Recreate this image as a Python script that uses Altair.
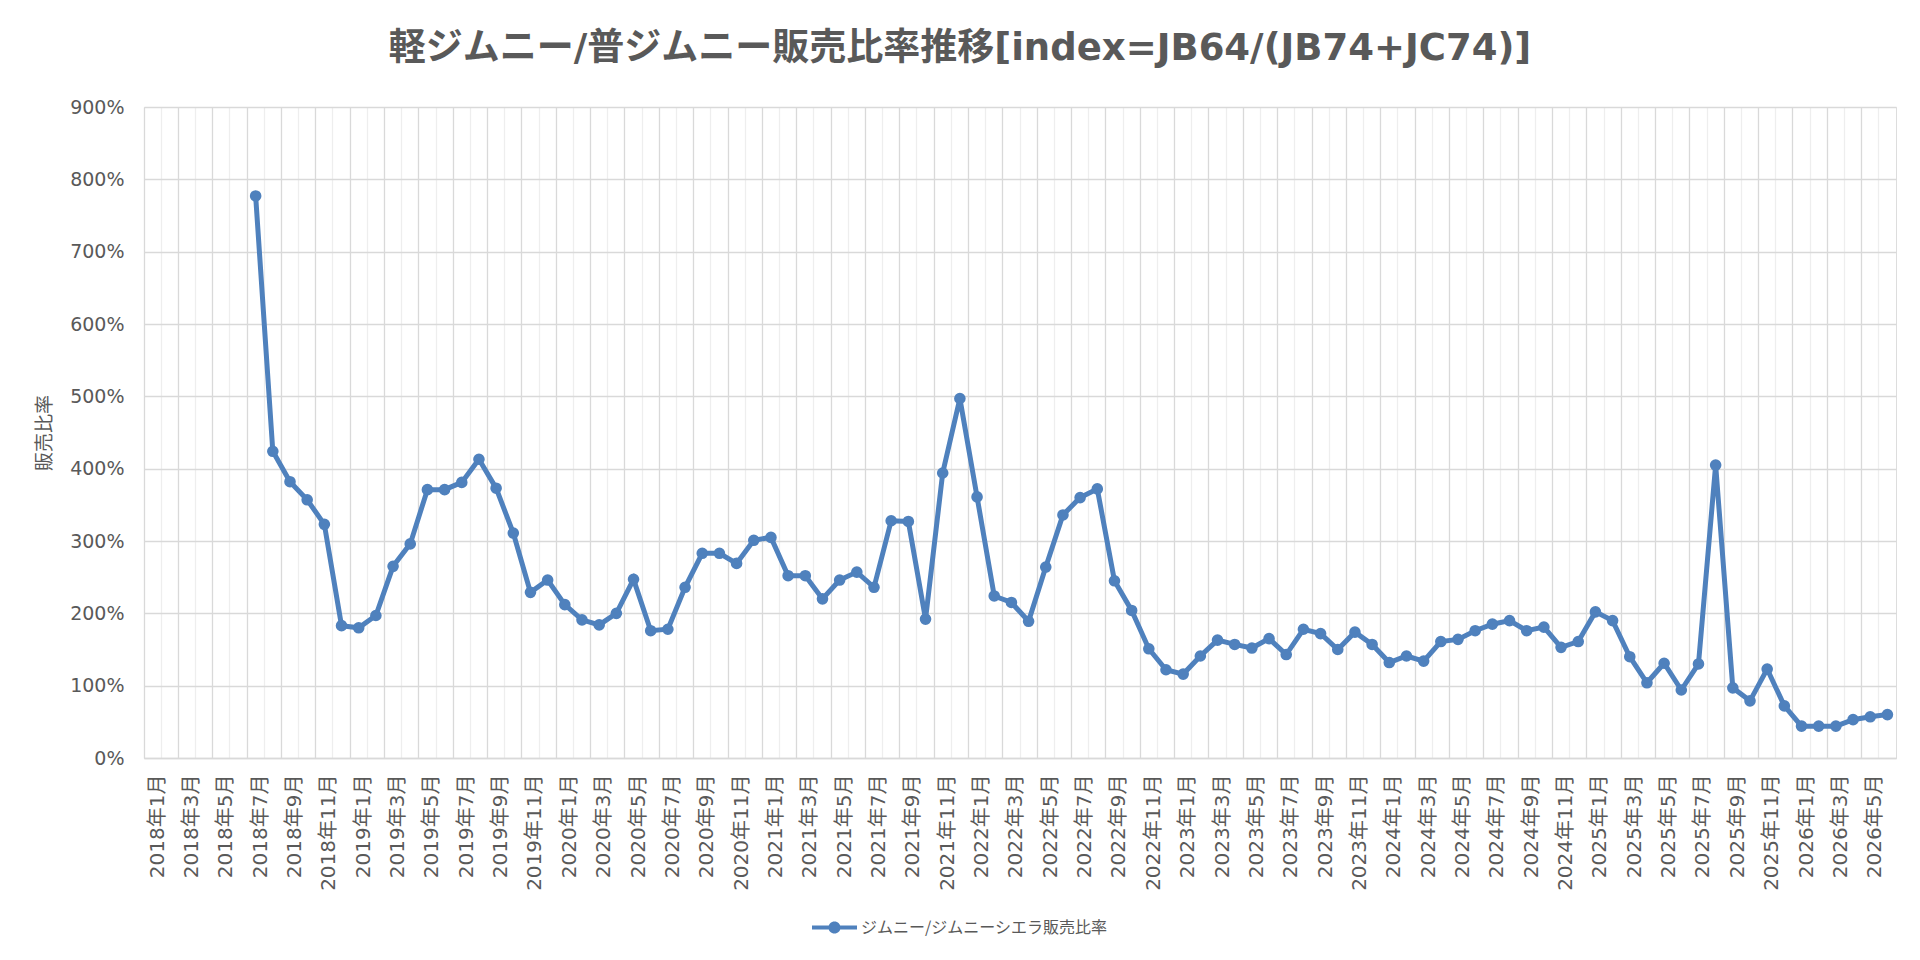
import json
import altair as alt
import pandas as pd

# categories: 2018年1月 .. 2026年6月
years = list(range(2018, 2027))
month_nums = list(range(1, 13))
months = [f"{y}年{m}月" for y in years for m in month_nums][:102]

# labelled months (every second month)
tick_labels = months[::2]

# ratio JB64/(JB74+JC74) in %, from 2018年7月 to 2026年6月
first_month = "2018年7月"
ratios = [
    777, 424, 382, 357, 323, 183,            # 2018-07..12
    180, 197, 265, 296, 371, 371, 381, 413, 373, 311, 229, 246,   # 2019
    212, 191, 184, 200, 247, 176, 178, 236, 283, 283, 269, 301,   # 2020
    305, 252, 252, 220, 246, 257, 236, 328, 327, 192, 394, 497,   # 2021
    361, 224, 215, 189, 264, 336, 360, 372, 245, 204, 151, 122,   # 2022
    116, 141, 163, 157, 152, 165, 143, 178, 172, 150, 174, 157,   # 2023
    132, 141, 134, 161, 164, 176, 185, 190, 176, 181, 153, 161,   # 2024
    202, 190, 140, 104, 131, 94, 130, 405, 97, 79, 123, 72,       # 2025
    44, 44, 44, 53, 57, 60,                  # 2026-01..06
]
series_name = "ジムニー/ジムニーシエラ販売比率"
y_ticks = [0, 100, 200, 300, 400, 500, 600, 700, 800, 900]

start = months.index(first_month)
df = pd.DataFrame({
    "month": months[start:start + len(ratios)],
    "ratio": ratios,
    "series": series_name,
})

LINE_COLOR = "#4F81BD"
TEXT_COLOR = "#595959"
GRID_MAJOR = "#D9D9D9"
GRID_MINOR = "#EEEEEE"
CJK = "Noto Sans CJK JP"
LATIN = "DejaVu Sans"

labels_js = json.dumps(tick_labels, ensure_ascii=False)

x_enc = alt.X(
    "month:O",
    sort=months,
    scale=alt.Scale(type="band", domain=months, paddingInner=0, paddingOuter=0),
    axis=alt.Axis(
        values=months,
        bandPosition=0,
        labelExpr=f"indexof({labels_js}, datum.value) >= 0 ? datum.label : ''",
        labelAngle=270,
        labelFont=f"{LATIN}, {CJK}",
        labelFontSize=20,
        labelColor=TEXT_COLOR,
        labelPadding=16,
        labelOffset=5,
        labelOverlap=False,
        labelBound=False,
        ticks=False,
        domainColor=GRID_MAJOR,
        domainWidth=1.3,
        grid=True,
        gridColor={
            "condition": {"test": f"indexof({labels_js}, datum.value) >= 0", "value": GRID_MAJOR},
            "value": GRID_MINOR,
        },
        gridWidth=1.3,
        title=None,
    ),
)

y_enc = alt.Y(
    "ratio:Q",
    scale=alt.Scale(domain=[0, 900], nice=False, zero=True),
    axis=alt.Axis(
        values=y_ticks,
        labelExpr="datum.value + '%'",
        labelFont=LATIN,
        labelFontSize=19,
        labelColor=TEXT_COLOR,
        labelPadding=20,
        ticks=False,
        domain=False,
        gridColor=GRID_MAJOR,
        gridWidth=1.3,
        title="販売比率",
        titleFont=CJK,
        titleFontSize=19,
        titleFontWeight="normal",
        titleColor=TEXT_COLOR,
        titleAngle=270,
        titleAlign="center",
        titleBaseline="middle",
        titleX=-100,
        titleY=325.5,
    ),
)

legend_symbol = (
    "M-1,-0.09H1V0.09H-1Z "
    "M0.27,0A0.27,0.27,0,1,1,-0.27,0A0.27,0.27,0,1,1,0.27,0Z"
)

line = alt.Chart(df).mark_line(color=LINE_COLOR, strokeWidth=5).encode(
    x=x_enc, y=y_enc
)

points = alt.Chart(df).mark_circle(size=135, opacity=1).encode(
    x=x_enc,
    y=y_enc,
    color=alt.Color(
        "series:N",
        scale=alt.Scale(range=[LINE_COLOR]),
        legend=alt.Legend(
            title=None,
            orient="none",
            legendX=668,
            legendY=798,
            symbolType=legend_symbol,
            symbolSize=2025,
            symbolStrokeWidth=0,
            symbolOpacity=1,
            labelFont=CJK,
            labelFontSize=16,
            labelColor=TEXT_COLOR,
            labelOffset=4,
            labelLimit=600,
        ),
    ),
)

chart = (
    alt.layer(line, points)
    .properties(
        width=1752,
        height=651,
        autosize=alt.AutoSizeParams(type="none"),
        padding={"left": 136, "top": 99, "right": 12, "bottom": 180},
        title=alt.TitleParams(
            text="軽ジムニー/普ジムニー販売比率推移[index=JB64/(JB74+JC74)]",
            font=f"{LATIN}, {CJK}",
            fontSize=37,
            fontWeight="bold",
            color=TEXT_COLOR,
            anchor="middle",
            frame="group",
            baseline="bottom",
            dx=-60,
            dy=35,
            offset=28,
        ),
    )
    .configure_view(stroke=GRID_MAJOR, strokeWidth=1.3)
    .configure(background="white")
)

chart.save("out.html", embed_options={"renderer": "svg", "actions": False})
